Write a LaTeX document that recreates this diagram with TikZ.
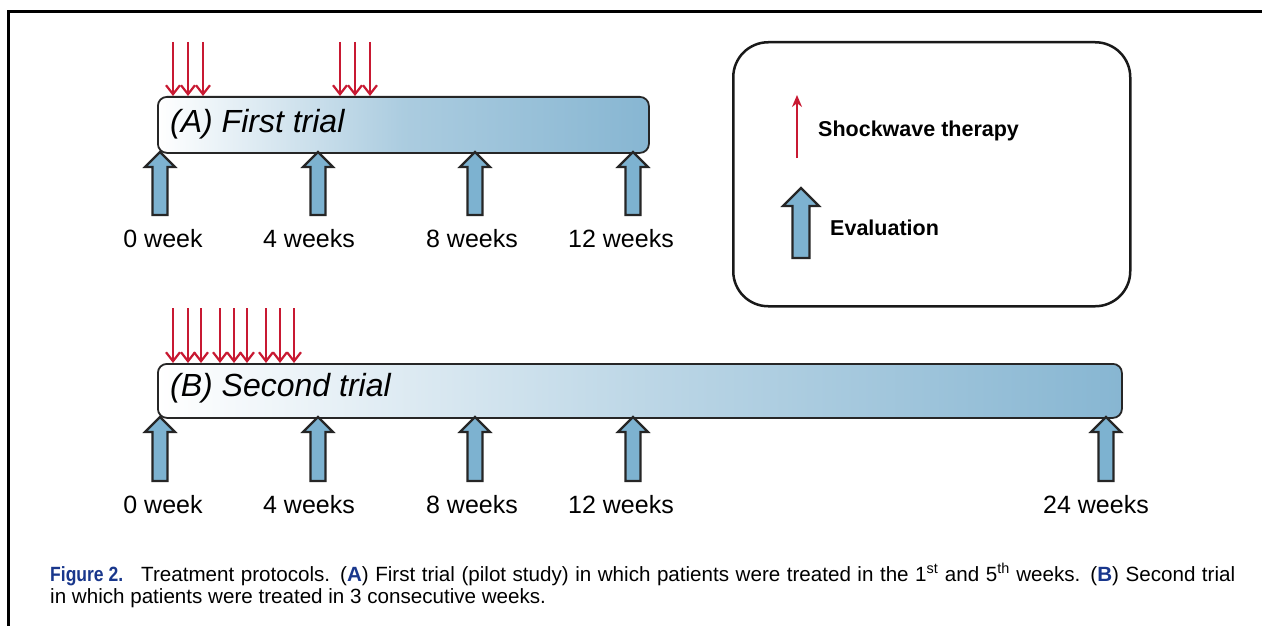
\documentclass[tikz,border=0pt]{standalone}
\usepackage{fontspec}
\setmainfont{Liberation Sans}
\usetikzlibrary{arrows.meta,calc}
\definecolor{barblue}{RGB}{135,182,210}
\definecolor{evalblue}{RGB}{125,178,208}
\definecolor{shockred}{RGB}{200,25,50}
\definecolor{capblue}{RGB}{25,55,140}
\tikzset{
  trialbar/.style={draw=black!85, line width=1.8pt, rounded corners=9pt, anchor=north west, inner sep=0pt},
  bartext/.style={anchor=west, font=\fontsize{32}{36}\selectfont\itshape, inner sep=0pt},
  weeklabel/.style={font=\fontsize{25}{30}\selectfont, inner sep=0pt},
  shock/.style={draw=shockred, line width=2.4pt, -{Straight Barb[length=9pt,width=14pt,line width=2.2pt]}},
  evalstyle/.style={draw=black!85, line width=2.2pt, fill=evalblue, line join=miter},
  legtext/.style={anchor=west, font=\fontsize{21.5}{26}\selectfont\bfseries, inner sep=0pt},
  captext/.style={anchor=base west, font=\fontsize{20.6}{24}\selectfont, inner sep=0pt},
}
\newcommand\evalarr[3]{%
  \draw[evalstyle] (#1,#2) -- ++(15,15) -- ++(-7.5,0) -- (#1+7.5,#3) -- (#1-7.5,#3)
    -- (#1-7.5,#2+15) -- ++(-7.5,0) -- cycle;}
\begin{document}
\begin{tikzpicture}[x=1pt,y=-1pt]
\useasboundingbox (0,0) rectangle (1262,626);
\fill[white] (0,0) rectangle (1262,626);
% outer frame
\draw[line width=3pt] (8,626) -- (8,12) -- (1262,12);

% bars
\node[trialbar, minimum width=491pt, minimum height=56pt, left color=white, right color=barblue, middle color=barblue!70] (barA) at (157,96) {};
\node[bartext] (textA) at (170,124) {(A) First trial};
\node[trialbar, minimum width=964pt, minimum height=54pt, left color=white, right color=barblue, middle color=barblue!55] (barB) at (157,363) {};
\node[bartext] (textB) at (170,388) {(B) Second trial};

% shockwave arrows A
\foreach \x in {173,188,203,340,355,370}
  {\draw[shock] (\x,42) -- (\x,96);}
% shockwave arrows B
\foreach \x in {173,188,201,220,234,247,266,280,294}
  {\draw[shock] (\x,308) -- (\x,363);}

% evaluation arrows A
\foreach \x in {160,318,475,633}
  {\evalarr{\x}{152}{215}}
% evaluation arrows B
\foreach \x in {160,318,475,633,1106}
  {\evalarr{\x}{417}{481}}

% labels A
\node[weeklabel] (a0) at (163,239) {0 week};
\node[weeklabel] (a4) at (309,239) {4 weeks};
\node[weeklabel] (a8) at (472,239) {8 weeks};
\node[weeklabel] (a12) at (621,239) {12 weeks};
% labels B
\node[weeklabel] (b0) at (163,505) {0 week};
\node[weeklabel] (b4) at (309,505) {4 weeks};
\node[weeklabel] (b8) at (472,505) {8 weeks};
\node[weeklabel] (b12) at (621,505) {12 weeks};
\node[weeklabel] (b24) at (1096,505) {24 weeks};

% legend
\node[draw=black!90, line width=2.5pt, rounded corners=35pt, minimum width=397pt, minimum height=264pt, anchor=north west, inner sep=0pt] (legend) at (732,41) {};
\draw[draw=shockred, line width=2.4pt, -{Stealth[length=12pt,width=10pt]}] (797,158) -- (797,95);
\node[legtext] (lshock) at (818,131) {Shockwave therapy};
\draw[evalstyle] (801,188) -- ++(18,18) -- ++(-9.5,0) -- (809.5,258) -- (792.5,258) -- (792.5,206) -- ++(-9.5,0) -- cycle;
\node[legtext] (leval) at (830,228) {Evaluation};

% caption
\node[captext] (fig) at (50,581) {\scalebox{0.85}[1]{\textcolor{capblue}{\bfseries Figure 2.}}};
\node[captext] (cap1) at (141,581) {\makebox[1094pt][s]{Treatment protocols. (\textcolor{capblue}{\bfseries A}) First trial (pilot study) in which patients were treated in the 1\textsuperscript{st} and 5\textsuperscript{th} weeks. (\textcolor{capblue}{\bfseries B}) Second trial}};
\node[captext] (cap2) at (50,603) {in which patients were treated in 3 consecutive weeks.};
\end{tikzpicture}
\end{document}
